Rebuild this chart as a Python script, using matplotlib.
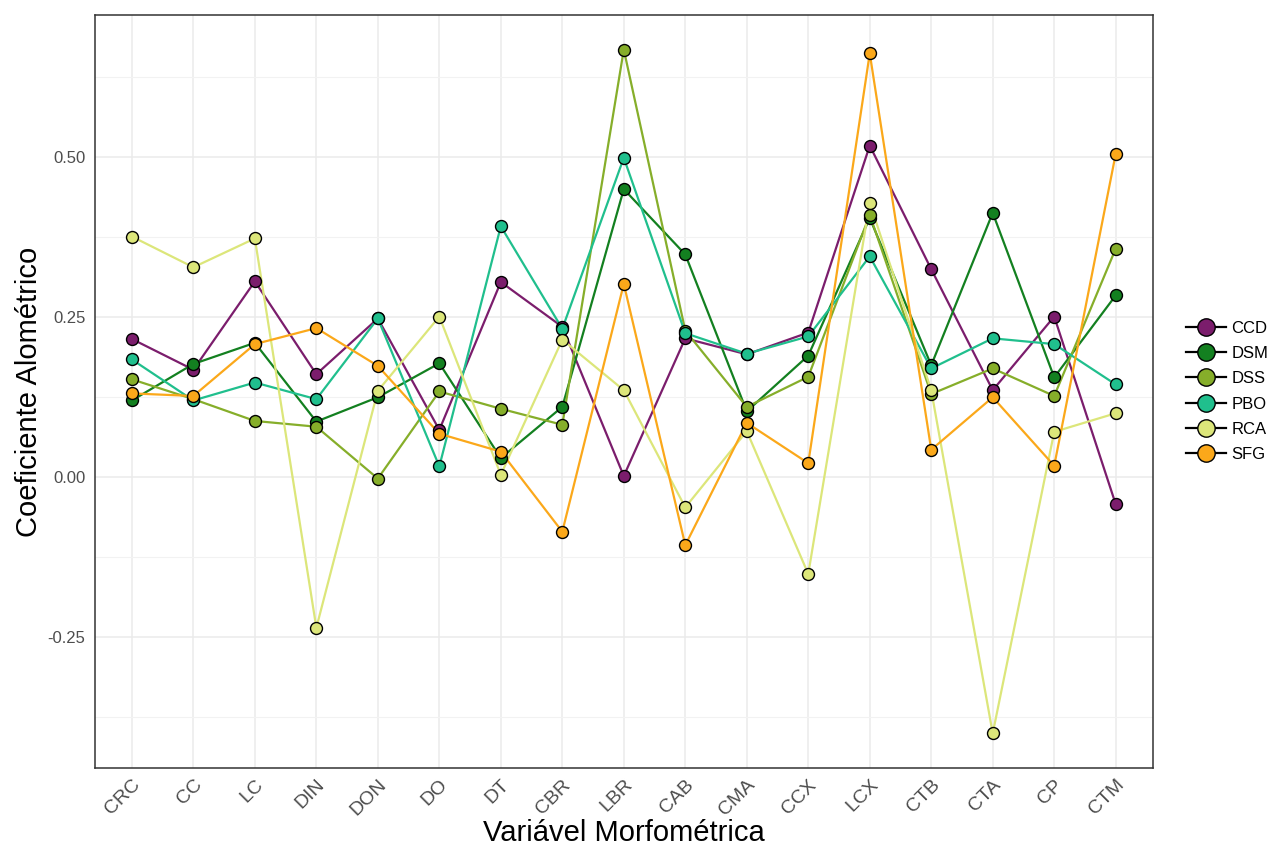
import matplotlib
matplotlib.use("Agg")
import matplotlib.pyplot as plt
from matplotlib.ticker import MultipleLocator
from matplotlib.lines import Line2D

plt.rcParams['font.family'] = ['Liberation Sans', 'DejaVu Sans']

variables = ["CRC", "CC", "LC", "DIN", "DON", "DO", "DT", "CBR", "LBR",
             "CAB", "CMA", "CCX", "LCX", "CTB", "CTA", "CP", "CTM"]

ccd = [0.216, 0.168, 0.306, 0.161, 0.248, 0.074, 0.305, 0.235, 0.002,
       0.217, 0.192, 0.226, 0.518, 0.325, 0.136, 0.251, -0.042]
dsm = [0.120, 0.177, 0.210, 0.087, 0.125, 0.178, 0.030, 0.110, 0.450,
       0.348, 0.103, 0.190, 0.405, 0.175, 0.413, 0.156, 0.284]
dss = [0.153, 0.122, 0.088, 0.079, -0.002, 0.134, 0.107, 0.082, 0.668,
       0.229, 0.110, 0.157, 0.410, 0.130, 0.170, 0.127, 0.357]
pbo = [0.184, 0.120, 0.148, 0.122, 0.248, 0.017, 0.392, 0.232, 0.499,
       0.225, 0.193, 0.220, 0.345, 0.170, 0.217, 0.208, 0.145]
rca = [0.376, 0.328, 0.373, -0.235, 0.135, 0.251, 0.004, 0.215, 0.136,
       -0.047, 0.072, -0.151, 0.429, 0.136, -0.400, 0.071, 0.100]
sfg = [0.131, 0.127, 0.208, 0.233, 0.174, 0.068, 0.040, -0.085, 0.302,
       -0.106, 0.085, 0.022, 0.662, 0.043, 0.125, 0.018, 0.505]

groups = ["CCD", "DSM", "DSS", "PBO", "RCA", "SFG"]
series = [ccd, dsm, dss, pbo, rca, sfg]
colors = ["#7B1D6C", "#138020", "#86AE2A", "#20BF8D", "#DCE67A", "#FBA81A"]

fig = plt.figure(figsize=(12.75, 8.52), dpi=100)
ax = fig.add_axes([0.0745, 0.0986, 0.8295, 0.8838])

x = list(range(len(variables)))

# all lines first, then the points on top (group order)
for vals, col in zip(series, colors):
    ax.plot(x, vals, color=col, lw=1.6, zorder=2)
for vals, col in zip(series, colors):
    ax.plot(x, vals, ls='none', marker='o', ms=8.6, mfc=col, mec='black',
            mew=1.0, zorder=3)

ax.set_xlim(-0.6, 16.6)
ax.set_ylim(-0.454, 0.722)
ax.set_xticks(x)
ax.set_xticklabels(variables, rotation=45, ha='right', rotation_mode='anchor')
ax.yaxis.set_minor_locator(MultipleLocator(0.125))
ticks = [-0.25, 0.0, 0.25, 0.5]
ax.set_yticks(ticks)
ax.set_yticklabels([f"{t:.2f}" for t in ticks])

ax.grid(which='major', color='#EBEBEB', lw=1.1, zorder=0)
ax.grid(which='minor', axis='y', color='#F2F2F2', lw=0.8, zorder=0)
ax.set_axisbelow(True)

for sp in ax.spines.values():
    sp.set_color('#333333')
    sp.set_linewidth(1.1)

ax.tick_params(axis='y', which='both', length=0, labelsize=12,
               labelcolor='#4D4D4D', pad=7)
ax.tick_params(axis='x', length=0, labelsize=14, labelcolor='#4D4D4D', pad=6)

ax.set_xlabel("Variável Morfométrica", fontsize=21, labelpad=0)
ax.set_ylabel("Coeficiente Alométrico", fontsize=21, labelpad=3)

handles = [Line2D([0], [0], color='black', lw=1.6, marker='o', ms=12.5,
                  mfc=c, mec='black', mew=1.0) for c in colors]
ax.legend(handles, groups, loc='center left', bbox_to_anchor=(1.017, 0.5),
          frameon=False, fontsize=12, handlelength=2.4,
          handletextpad=0.35, labelspacing=0.62)

fig.savefig("out.png", dpi=100, facecolor='white')
